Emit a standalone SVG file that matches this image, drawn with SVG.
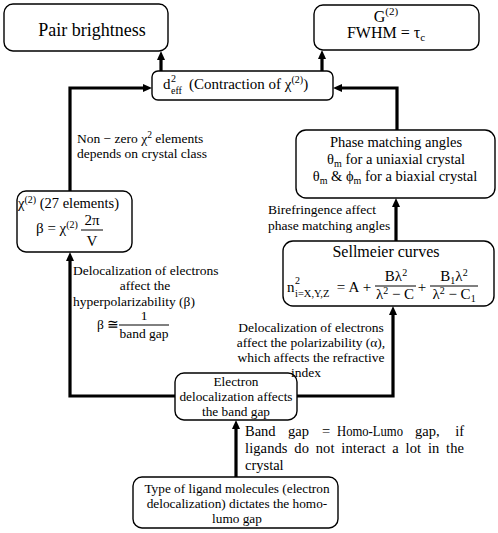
<svg xmlns="http://www.w3.org/2000/svg" width="498" height="533" viewBox="0 0 498 533">
<defs>
<style>
text{font-family:"Liberation Serif","DejaVu Serif",serif;fill:#000}
.box{fill:#fff;stroke:#000;stroke-width:1.4}
.conn{fill:none;stroke:#000;stroke-width:3.2;stroke-linejoin:miter}
.lbl{font-size:13.5px}
.nd{font-size:13.3px}
.c{text-anchor:middle}
.e{text-anchor:end}
.bar{stroke:#000;stroke-width:1}
</style>
<marker id="ah" markerUnits="userSpaceOnUse" markerWidth="9" markerHeight="8" refX="3" refY="4" orient="auto">
<path d="M0,0 L9,4 L0,8 z" fill="#000"/>
</marker>
</defs>
<rect width="498" height="533" fill="#fff"/>

<g id="connectors">
<path class="conn" d="M161,71 L161,57" marker-end="url(#ah)"/>
<path class="conn" d="M322,71 L322,56" marker-end="url(#ah)"/>
<path class="conn" d="M70,191 L70,88 L146,88" marker-end="url(#ah)"/>
<path class="conn" d="M397,130 L397,88 L339,88" marker-end="url(#ah)"/>
<path class="conn" d="M396,241 L396,204" marker-end="url(#ah)"/>
<path class="conn" d="M297,396 L393,396 L393,312" marker-end="url(#ah)"/>
<path class="conn" d="M175,396 L70,396 L70,258" marker-end="url(#ah)"/>
<path class="conn" d="M236,477 L236,426" marker-end="url(#ah)"/>
</g>

<g id="pair-brightness">
<rect class="box" x="4" y="4" width="164" height="47" rx="9"/>
<text class="c" x="92" y="36" font-size="18">Pair brightness</text>
</g>

<g id="g2">
<rect class="box" x="314" y="5" width="165" height="45" rx="9"/>
<text class="c" x="386" y="22" font-size="16">G<tspan dy="-7" font-size="11">(2)</tspan></text>
<text class="c" x="386" y="38" font-size="16">FWHM = τ<tspan dy="3" font-size="11">c</tspan></text>
</g>

<g id="deff">
<rect class="box" x="152" y="71" width="181" height="29" rx="6"/>
<text x="163" y="89" font-size="15">d</text>
<text x="171" y="82" font-size="10">2</text>
<text x="171" y="94" font-size="10">eff</text>
<text x="189" y="89" font-size="15">(Contraction of χ<tspan dy="-6" font-size="10">(2)</tspan><tspan dy="6">)</tspan></text>
</g>

<g id="phase-matching">
<rect class="box" x="296" y="130" width="199" height="68" rx="10"/>
<text class="c" x="396" y="147" font-size="14.5">Phase matching angles</text>
<text class="c" x="396" y="164" font-size="14.5">θ<tspan dy="3" font-size="10">m</tspan><tspan dy="-3"> for a uniaxial crystal</tspan></text>
<text class="c" x="395" y="181" font-size="14.5">θ<tspan dy="3" font-size="10">m</tspan><tspan dy="-3"> &amp; ϕ</tspan><tspan dy="3" font-size="10">m</tspan><tspan dy="-3"> for a biaxial crystal</tspan></text>
</g>

<g id="sellmeier">
<rect class="box" x="283" y="241" width="211" height="65" rx="10"/>
<text class="c" x="386" y="257" font-size="16">Sellmeier curves</text>
<text x="287" y="292" font-size="15">n</text>
<text x="295" y="284" font-size="10">2</text>
<text x="295" y="297" font-size="10.5">i=X,Y,Z</text>
<text class="c" x="341" y="292" font-size="15">=</text>
<text class="c" x="354" y="292" font-size="15">A</text>
<text class="c" x="367" y="292" font-size="15">+</text>
<text class="c" x="396" y="281" font-size="15">Bλ<tspan dy="-5" font-size="10">2</tspan></text>
<line class="bar" x1="375" y1="286" x2="416" y2="286"/>
<text class="c" x="395" y="299" font-size="15">λ<tspan dy="-5" font-size="10">2</tspan><tspan dy="5"> − C</tspan></text>
<text class="c" x="422" y="292" font-size="15">+</text>
<text class="c" x="454" y="281" font-size="15">B<tspan dy="3" font-size="10">1</tspan><tspan dy="-3">λ</tspan><tspan dy="-5" font-size="10">2</tspan></text>
<line class="bar" x1="430" y1="286" x2="478" y2="286"/>
<text class="c" x="454" y="299" font-size="15">λ<tspan dy="-5" font-size="10">2</tspan><tspan dy="5"> − C</tspan><tspan dy="3" font-size="10">1</tspan></text>
</g>

<g id="chi2">
<rect class="box" x="17" y="191" width="115" height="61" rx="9"/>
<text x="18" y="208" font-size="14.5">χ<tspan dy="-5" font-size="10">(2)</tspan><tspan dy="5"> (27 elements)</tspan></text>
<text x="36" y="233" font-size="15">β = χ<tspan dy="-5" font-size="10">(2)</tspan></text>
<text class="c" x="92" y="225" font-size="15">2π</text>
<line class="bar" x1="81" y1="230" x2="103" y2="230"/>
<text class="c" x="92" y="246" font-size="15">V</text>
</g>

<g id="electron-delocalization">
<rect class="box" x="175" y="373" width="122" height="47" rx="9"/>
<text class="nd c" x="236" y="386">Electron</text>
<text class="nd c" x="236" y="401">delocalization affects</text>
<text class="nd c" x="236" y="416">the band gap</text>
</g>

<g id="ligand-type">
<rect class="box" x="133" y="477" width="205" height="51" rx="9"/>
<text class="nd c" x="237" y="493">Type of ligand molecules (electron</text>
<text class="nd c" x="237" y="508">delocalization) dictates the homo-</text>
<text class="nd c" x="237" y="523">lumo gap</text>
</g>

<g id="labels">
<text class="lbl" x="77" y="143">Non − zero χ<tspan dy="-5" font-size="9.5">2</tspan><tspan dy="5"> elements</tspan></text>
<text class="lbl" x="77" y="158">depends on crystal class</text>
<text class="lbl" x="268" y="214">Birefringence affect</text>
<text class="lbl" x="268" y="230">phase matching angles</text>
<text class="lbl" x="73" y="275">Delocalization of electrons</text>
<text class="lbl c" x="145" y="290">affect the</text>
<text class="lbl" x="73" y="306">hyperpolarizability (β)</text>
<text class="lbl" x="97" y="329">β ≅</text>
<text class="lbl c" x="144" y="320">1</text>
<line class="bar" x1="119" y1="325" x2="169" y2="325"/>
<text class="lbl c" x="144" y="338">band gap</text>
<text class="lbl c" x="311" y="332">Delocalization of electrons</text>
<text class="lbl c" x="311" y="347">affect the polarizability (α),</text>
<text class="lbl c" x="311" y="362">which affects the refractive</text>
<text class="lbl c" x="306" y="377">index</text>
<text x="245" y="436" font-size="14.5">Band</text>
<text x="288" y="436" font-size="14.5">gap</text>
<text x="322" y="436" font-size="14.5">=</text>
<text x="337" y="436" font-size="14.5" textLength="66" lengthAdjust="spacingAndGlyphs">Homo-Lumo</text>
<text x="415" y="436" font-size="14.5">gap,</text>
<text class="e" x="464" y="436" font-size="14.5">if</text>
<text x="245" y="453" font-size="14.5" textLength="219" lengthAdjust="spacing" word-spacing="3">ligands do not interact a lot in the</text>
<text x="245" y="470" font-size="14.5">crystal</text>
</g>
</svg>
